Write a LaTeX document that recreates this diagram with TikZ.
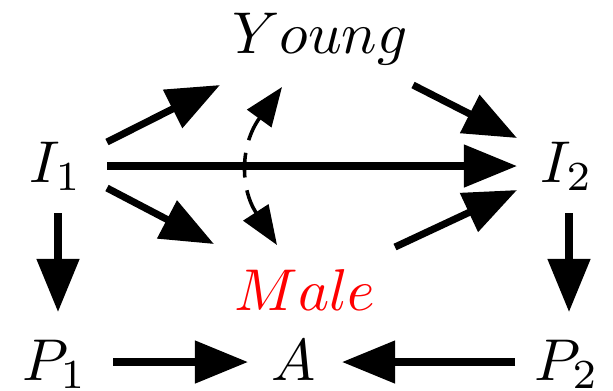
\documentclass[tikz,border=0pt]{standalone}
\usetikzlibrary{arrows.meta,calc}
\begin{document}
\begin{tikzpicture}[x=0.1695pt,y=-0.1695pt,
  lbl/.style={inner sep=0pt,anchor=base},
  arr/.style={line width=1.2pt,-{Triangle[length=9pt,width=7pt]}},
  darr/.style={line width=0.6pt,dash pattern=on 4.2pt off 2.2pt,
    {Triangle[length=6.6pt,width=5pt]}-{Triangle[length=6.6pt,width=5pt]}}]
\useasboundingbox (0,0) rectangle (613,390);
\node[lbl] (I1) at (56,182) {$I_1$};
\node[lbl] (I2) at (567,182) {$I_2$};
\node[lbl] (Y) at (320,53) {$Young$};
\node[lbl,text=red] (M) at (305,310) {$Male$};
\node[lbl] (P1) at (55,380) {$P_1$};
\node[lbl] (A) at (294,380) {$A$};
\node[lbl] (P2) at (567,380) {$P_2$};
\draw[arr] ($(I1.base)+(51,-40)$) -- ($(Y.base)+(-100,32)$);
\draw[arr] ($(I1.base)+(51,-16)$) -- ($(I2.base)+(-50,-16)$);
\draw[arr] ($(I1.base)+(51,6)$) -- ($(M.base)+(-91,-66)$);
\draw[arr] ($(Y.base)+(93,32)$) -- ($(I2.base)+(-50,-44)$);
\draw[arr] ($(M.base)+(90,-63)$) -- ($(I2.base)+(-50,8)$);
\draw[arr] ($(I1.base)+(2,31)$) -- ($(P1.base)+(3,-68)$);
\draw[arr] ($(I2.base)+(2,31)$) -- ($(P2.base)+(2,-68)$);
\draw[arr] ($(P1.base)+(58,-18)$) -- ($(A.base)+(-46,-18)$);
\draw[arr] ($(P2.base)+(-52,-18)$) -- ($(A.base)+(48,-18)$);
\draw[darr] ($(M.base)+(-28,-65)$) .. controls ($(M.base)+(-65,-122)$) and ($(Y.base)+(-80,92)$) .. ($(Y.base)+(-38,34)$);
\end{tikzpicture}
\end{document}
